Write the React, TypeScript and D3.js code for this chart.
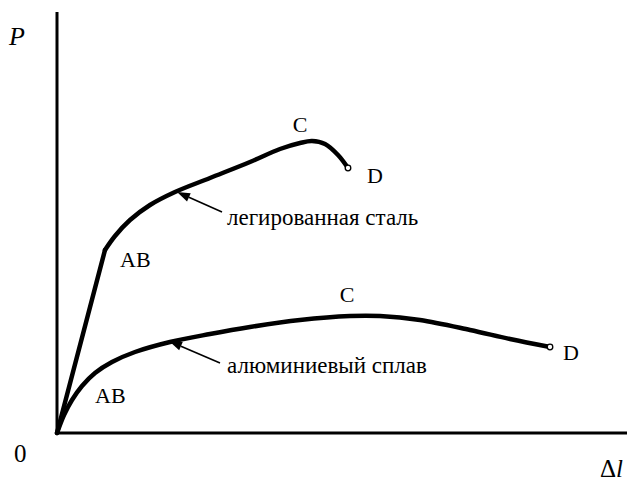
import React from "react";
import * as d3 from "d3";

// Curves in arbitrary units (Δl, P)
const steelElastic: [number, number][] = [[0, 0], [48, 183]];
const steelPlastic: [number, number][] = [
  [48, 183], [58, 197], [73, 213], [93, 228], [118, 241], [153, 255], [193, 271],
  [223, 284], [243, 290], [255, 292], [268, 289], [281, 278], [291, 265],
];
const aluminium: [number, number][] = [
  [0, 0], [7, 18], [15, 33], [25, 47], [38, 60], [55, 71], [78, 81], [113, 91],
  [153, 99], [193, 106], [243, 113], [293, 117], [323, 117], [363, 113], [413, 103],
  [453, 94], [493, 86],
];
const seriesNames = ["легированная сталь", "алюминиевый сплав"];
const pointLabels = ["AB", "C", "D"];
const axisLabels = { y: "P", x: "Δ", xi: "l", origin: "0" };

const W = 630, H = 481;
const x = d3.scaleLinear().domain([0, 570]).range([57, 627]);
const y = d3.scaleLinear().domain([0, 421]).range([433, 12]);

const lin = d3.line<[number, number]>().x(d => x(d[0])).y(d => y(d[1]));
const smooth = d3.line<[number, number]>().x(d => x(d[0])).y(d => y(d[1])).curve(d3.curveCatmullRom.alpha(0.5));

const serif = "'Liberation Serif', 'Times New Roman', serif";

function Arrow({ x1, y1, x2, y2 }: { x1: number; y1: number; x2: number; y2: number }) {
  const ang = Math.atan2(y2 - y1, x2 - x1);
  const L = 13, Wd = 4.5;
  const bx = x2 - L * Math.cos(ang), by = y2 - L * Math.sin(ang);
  const px = -Math.sin(ang) * Wd, py = Math.cos(ang) * Wd;
  return (
    <g>
      <line x1={x1} y1={y1} x2={bx} y2={by} stroke="#000" strokeWidth={1.6} />
      <path d={`M${x2},${y2}L${bx + px},${by + py}L${bx - px},${by - py}Z`} fill="#000" />
    </g>
  );
}

export default function App() {
  const sPeak = steelPlastic[9];
  const sEnd = steelPlastic[steelPlastic.length - 1];
  const sAB = steelElastic[1];
  const aPeak = aluminium[11];
  const aEnd = aluminium[aluminium.length - 1];
  const aAB = aluminium[3];
  return (
    <svg width={W} height={H} style={{ position: "absolute", left: 0, top: 0, background: "#fff" }}>
      <rect width={W} height={H} fill="#fff" />
      {/* axes */}
      <line x1={x(0)} y1={y(0)} x2={x(0)} y2={y(421)} stroke="#000" strokeWidth={3} />
      <line x1={x(0) - 1.5} y1={y(0)} x2={x(570)} y2={y(0)} stroke="#000" strokeWidth={3} />
      {/* curves */}
      <path d={lin(steelElastic)!} fill="none" stroke="#000" strokeWidth={4.5} strokeLinejoin="round" strokeLinecap="round" />
      <path d={smooth(steelPlastic)!} fill="none" stroke="#000" strokeWidth={4.5} strokeLinejoin="round" strokeLinecap="round" />
      <path d={smooth(aluminium)!} fill="none" stroke="#000" strokeWidth={4.5} strokeLinejoin="round" strokeLinecap="round" />
      <circle cx={x(sEnd[0])} cy={y(sEnd[1])} r={2.8} fill="#fff" stroke="#000" strokeWidth={1.3} />
      <circle cx={x(aEnd[0])} cy={y(aEnd[1])} r={2.8} fill="#fff" stroke="#000" strokeWidth={1.3} />
      {/* labels */}
      <g fontSize={22} fill="#000" fontFamily={serif}>
        <text x={x(sAB[0]) + 15} y={y(sAB[1]) + 17}>{pointLabels[0]}</text>
        <text x={x(sPeak[0]) - 12} y={y(sPeak[1]) - 9} textAnchor="middle">{pointLabels[1]}</text>
        <text x={x(sEnd[0]) + 19} y={y(sEnd[1]) + 15}>{pointLabels[2]}</text>
        <text x={x(aAB[0]) + 13} y={y(aAB[1]) + 17}>{pointLabels[0]}</text>
        <text x={x(aPeak[0]) - 3} y={y(aPeak[1]) - 14} textAnchor="middle">{pointLabels[1]}</text>
        <text x={x(aEnd[0]) + 13} y={y(aEnd[1]) + 13}>{pointLabels[2]}</text>
        <text x={227} y={225} fontSize={23}>{seriesNames[0]}</text>
        <text x={227} y={373} fontSize={23}>{seriesNames[1]}</text>
        <text x={14} y={462} fontSize={25}>{axisLabels.origin}</text>
        <text x={9} y={45} fontStyle="italic" fontSize={26}>{axisLabels.y}</text>
        <text x={600} y={477} fontSize={25}>
          {axisLabels.x}<tspan fontStyle="italic">{axisLabels.xi}</tspan>
        </text>
      </g>
      <Arrow x1={222} y1={212} x2={177} y2={192} />
      <Arrow x1={220} y1={363} x2={169} y2={341} />
    </svg>
  );
}
